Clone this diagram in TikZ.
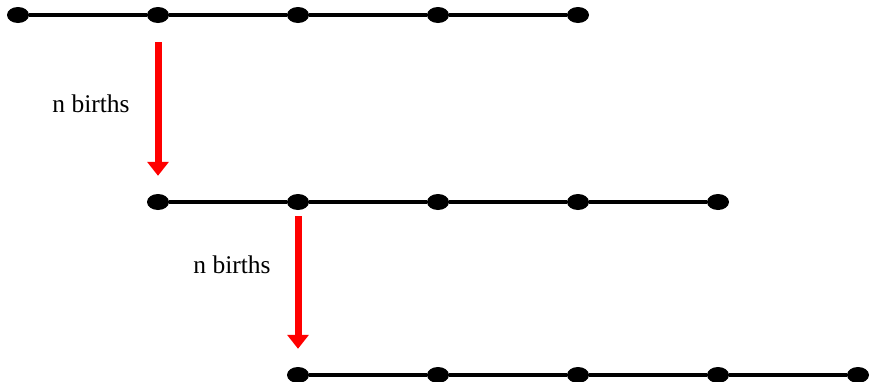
\documentclass[tikz,border=0pt]{standalone}
\usepackage{fontspec}
\setmainfont{Liberation Serif}
\usetikzlibrary{shapes.geometric,arrows.meta}
\tikzset{
  dot/.style={ellipse,fill=black,draw=none,minimum width=22pt,minimum height=16pt,inner sep=0pt},
  link/.style={line width=4.8pt,black},
  birth/.style={line width=7pt,red,-{Triangle[width=21pt,length=14pt]},shorten >=18pt},
  lbl/.style={font=\fontsize{25.5}{30}\selectfont,inner sep=0pt}
}
\begin{document}
\begin{tikzpicture}[x=1pt,y=-1pt]
\useasboundingbox (0,0) rectangle (870,381);
% row 1
\foreach \i/\x in {1/18,2/158,3/298,4/438,5/578} \node[dot] (a\i) at (\x,15) {};
% row 2
\foreach \i/\x in {1/158,2/298,3/438,4/578,5/718} \node[dot] (b\i) at (\x,202) {};
% row 3
\foreach \i/\x in {1/298,2/438,3/578,4/718,5/858} \node[dot] (c\i) at (\x,375) {};
\foreach \r in {a,b,c}{
  \draw[link] (\r1) -- (\r2) -- (\r3) -- (\r4) -- (\r5);
}
\draw[birth,shorten <=19pt] (a2.south) -- (b1.north);
\draw[birth,shorten <=6pt] (b2.south) -- (c1.north);
\node[lbl] (l1) at (91,104) {n births};
\node[lbl] (l2) at (232,265) {n births};
\end{tikzpicture}
\end{document}
